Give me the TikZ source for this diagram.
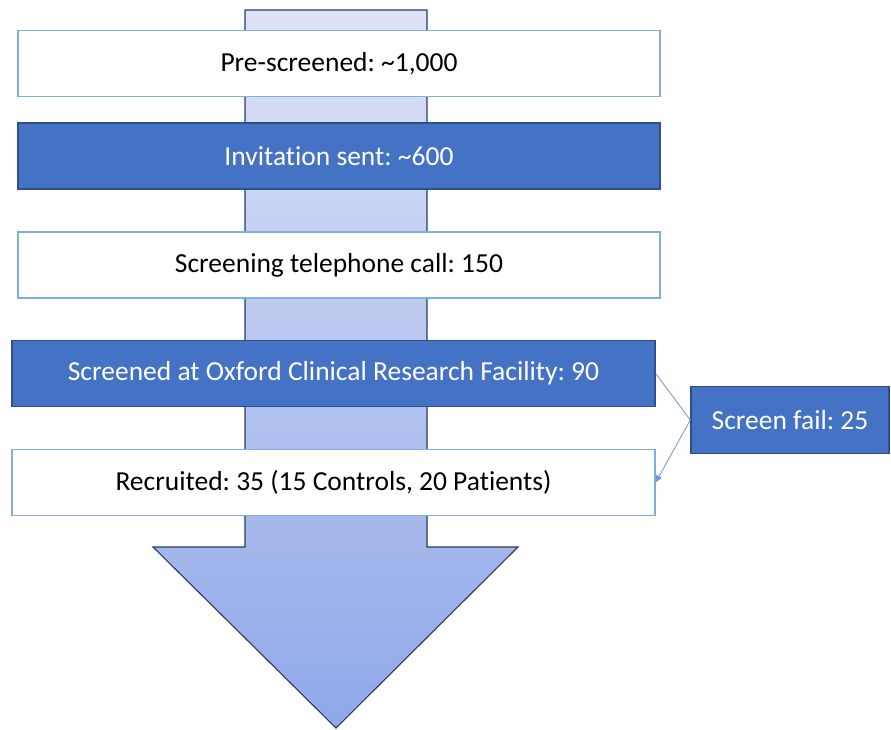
\documentclass[tikz,border=0pt]{standalone}
\usepackage{fontspec}
\setmainfont{Carlito}[Ligatures={NoCommon,NoRare}]
\frenchspacing
\usetikzlibrary{arrows.meta}
\definecolor{darkfill}{HTML}{4472C4}
\definecolor{darkedge}{HTML}{2F4F8A}
\definecolor{lightedge}{HTML}{7FAEE0}
\definecolor{arrowtop}{HTML}{DDE2F6}
\definecolor{arrowbot}{HTML}{8FA8E8}
\definecolor{arrowedge}{HTML}{2E3A5C}
\definecolor{linkcol}{HTML}{6F93D4}
\tikzset{
  whitebox/.style={draw=lightedge, line width=1.3pt, fill=white, minimum height=66pt, inner sep=0pt, font=\fontsize{27.5}{32}\selectfont, text=black},
  bluebox/.style={draw=darkedge, line width=1.3pt, fill=darkfill, minimum height=66pt, inner sep=0pt, font=\fontsize{27.5}{32}\selectfont, text=white},
  link/.style={draw=linkcol, line width=0.8pt}
}
\begin{document}
\begin{tikzpicture}[x=1pt,y=-1pt]
\useasboundingbox (0,0) rectangle (891,729);
% big down arrow
\path[top color=arrowtop, bottom color=arrowbot, draw=arrowedge, line width=1.1pt]
  (245,10) -- (427,10) -- (427,547) -- (518,547) -- (336,728) -- (153,547) -- (245,547) -- cycle;
% boxes
\node[whitebox, minimum width=642pt] (b1) at (339,63.5) {Pre-screened: \textasciitilde1,000};
\node[bluebox, minimum width=642pt] (b2) at (339,156) {Invitation sent: \textasciitilde600};
\node[whitebox, minimum width=642pt] (b3) at (339,265) {Screening telephone call: 150};
\node[bluebox, minimum width=643pt] (b4) at (333.5,373.5) {Screened at Oxford Clinical Research Facility: 90};
\node[whitebox, minimum width=643pt] (b5) at (333.5,482.5) {Recruited: 35 (15 Controls, 20 Patients)};
\node[bluebox, minimum width=198pt, minimum height=67pt] (fail) at (790,420) {Screen fail: 25};
% connectors
\draw[link] (b4.east) -- (fail.west);
\draw[link, -{Triangle[length=7pt,width=6pt]}] (fail.west) -- (b5.east);
\end{tikzpicture}
\end{document}
